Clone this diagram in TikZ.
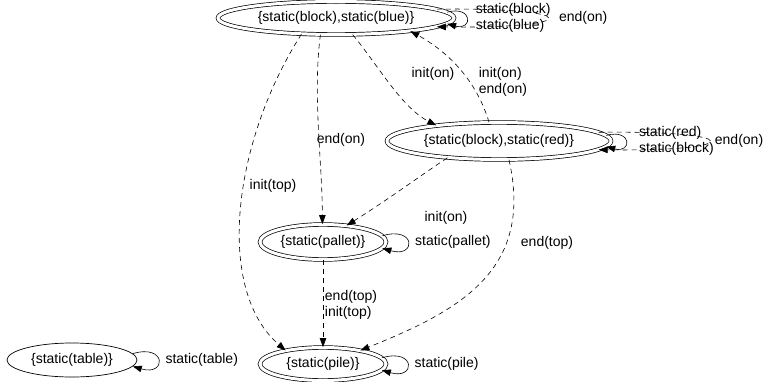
\documentclass[tikz,border=0pt]{standalone}
\usepackage{fontspec}
\setmainfont{Liberation Sans}
\usetikzlibrary{shapes.geometric, arrows.meta, positioning}

\begin{document}
\begin{tikzpicture}[x=1pt, y=-1pt, font=\fontsize{14}{16}\selectfont,
  state/.style={ellipse, draw, line width=0.7pt, inner sep=0pt},
  final/.style={state, double, double distance=3pt},
  move/.style={-{Triangle[length=9pt,width=6.5pt]}, line width=0.6pt},
  dashedge/.style={move, dash pattern=on 5pt off 4pt},
  lbl/.style={inner sep=1pt, align=left}]
\useasboundingbox (0,0) rectangle (765,382);
% States
\node[final, minimum width=236pt, minimum height=33pt] (blue) at (336,18) {\{static(block),static(blue)\}};
\node[final, minimum width=224pt, minimum height=37pt] (red) at (499,141) {\{static(block),static(red)\}};
\node[final, minimum width=126pt, minimum height=35pt] (pallet) at (323,242) {\{static(pallet)\}};
\node[final, minimum width=126pt, minimum height=33pt] (pile) at (323,364) {\{static(pile)\}};
\node[state, minimum width=130pt, minimum height=34pt] (table) at (72,360) {\{static(table)\}};
% Self loops
\foreach \n in {pallet,pile,table}{
\draw[move] (\n.6) .. controls +(34,-10) and +(34,10) .. (\n.-6) node[midway, right=6pt, lbl] {static(\n)};
}
\draw[move] (blue.3) .. controls +(26,-7) and +(26,7) .. (blue.-3) node[midway, right=8pt, lbl] {static(block)\\static(blue)};
\draw[dashedge] (blue.5) .. controls +(148,-2) and +(148,2) .. (blue.-5) node[midway, right=10pt, lbl] {end(on)};
\draw[move] (red.3) .. controls +(26,-7) and +(26,7) .. (red.-3) node[midway, right=12pt, lbl] {static(red)\\static(block)};
\draw[dashedge] (red.5) .. controls +(148,-2) and +(148,2) .. (red.-5) node[midway, right=4pt, lbl] {end(on)};
% Transitions
\draw[dashedge] (blue.-45) .. controls +(25,30) and +(-35,-18) .. (red.166);
\draw[dashedge] (red.118) .. controls +(-12,-40) and +(40,22) .. (blue.-10);
\draw[dashedge] (blue.-133) .. controls +(-8,60) and +(0,-60) .. (pallet.92);
\draw[dashedge] (blue.-155) .. controls +(-70,110) and +(-70,-60) .. (pile.160);
\draw[dashedge] (red.-162) .. controls +(-30,20) and +(40,-25) .. (pallet.35);
\draw[dashedge] (red.-62) .. controls +(25,110) and +(100,-40) .. (pile.20);
\draw[dashedge] (pallet) -- (pile);
% Labels
\node[lbl] (l1) at (433,74) {init(on)};
\node[lbl] (l2) at (503,82) {init(on)\\end(on)};
\node[lbl] (l3) at (341,140) {end(on)};
\node[lbl] (l4) at (273,186) {init(top)};
\node[lbl] (l5) at (446,218) {init(on)};
\node[lbl] (l6) at (547,243) {end(top)};
\node[lbl] (l7) at (351,305) {end(top)\\init(top)};
\end{tikzpicture}
\end{document}
